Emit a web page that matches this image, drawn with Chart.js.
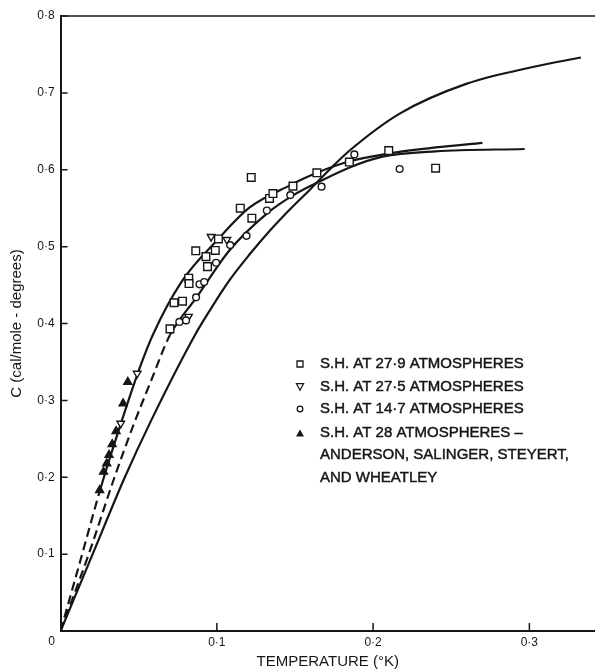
<!DOCTYPE html>
<html><head><meta charset="utf-8">
<script src="https://cdn.jsdelivr.net/npm/chart.js@4/dist/chart.umd.min.js"></script>
<style>html,body{margin:0;padding:0;background:#fff}canvas{display:block}</style>
</head><body>
<canvas id="c" width="595" height="669"></canvas>
<script>
// ---- data (temperature in °K, specific heat C in cal/mole-degree) ----
const xTickValues = [0, 0.1, 0.2, 0.3];
const yTickValues = [0, 0.1, 0.2, 0.3, 0.4, 0.5, 0.6, 0.7, 0.8];

// fitted curve through the 27.9 atm squares (dashed below curveA_dashTo)
const curveA_T = [0, 0.0138, 0.0255, 0.037, 0.049, 0.059, 0.078, 0.100, 0.121, 0.147, 0.164, 0.185, 0.210, 0.240, 0.270];
const curveA_C = [0, 0.100, 0.185, 0.260, 0.333, 0.385, 0.456, 0.508, 0.551, 0.580, 0.596, 0.611, 0.621, 0.629, 0.635];
const curveA_dashTo = 0.0255;

// fitted curve through the 14.7 atm circles (dashed below curveB_dashTo)
const curveB_T = [0, 0.018, 0.0345, 0.047, 0.058, 0.070, 0.087, 0.108, 0.132, 0.149, 0.167, 0.185, 0.206, 0.240, 0.297];
const curveB_C = [0, 0.100, 0.200, 0.270, 0.326, 0.385, 0.434, 0.495, 0.543, 0.567, 0.586, 0.603, 0.617, 0.624, 0.627];
const curveB_dashTo = 0.070;

// lower solid (theoretical) curve
const curveC_T = [0, 0.0205, 0.0411, 0.058, 0.086, 0.0955, 0.108, 0.121, 0.134, 0.147, 0.160, 0.172, 0.185, 0.217, 0.260, 0.303, 0.333];
const curveC_C = [0, 0.100, 0.200, 0.274, 0.385, 0.417, 0.456, 0.490, 0.521, 0.549, 0.575, 0.600, 0.625, 0.673, 0.712, 0.734, 0.746];

// S.H. at 27.9 atm (open squares)
const sq_T = [0.070, 0.0726, 0.078, 0.082, 0.0822, 0.0865, 0.093, 0.094, 0.099, 0.101, 0.115, 0.122, 0.1224, 0.1337, 0.1359, 0.1487, 0.164, 0.1848, 0.210, 0.240];
const sq_C = [0.393, 0.427, 0.429, 0.459, 0.452, 0.4946, 0.487, 0.474, 0.495, 0.510, 0.550, 0.590, 0.537, 0.5627, 0.569, 0.5787, 0.596, 0.610, 0.625, 0.602];
// S.H. at 27.5 atm (open inverted triangles)
const itri_T = [0.0385, 0.049, 0.0818, 0.0963, 0.1064];
const itri_C = [0.270, 0.335, 0.409, 0.513, 0.509];
// S.H. at 14.7 atm (open circles)
const ci_T = [0.076, 0.0803, 0.0867, 0.0889, 0.0919, 0.0995, 0.1085, 0.119, 0.132, 0.147, 0.167, 0.188, 0.217];
const ci_C = [0.402, 0.404, 0.434, 0.451, 0.454, 0.479, 0.502, 0.514, 0.547, 0.567, 0.578, 0.620, 0.601];
// S.H. at 28 atm - Anderson, Salinger, Steyert and Wheatley (filled triangles)
const tri_T = [0.025, 0.0275, 0.0295, 0.031, 0.033, 0.0355, 0.040, 0.043];
const tri_C = [0.183, 0.207, 0.218, 0.229, 0.243, 0.260, 0.296, 0.324];

const legendLines = [
  'S.H. AT 27·9 ATMOSPHERES',
  'S.H. AT 27·5 ATMOSPHERES',
  'S.H. AT 14·7 ATMOSPHERES',
  'S.H. AT 28 ATMOSPHERES –',
  'ANDERSON, SALINGER, STEYERT,',
  'AND WHEATLEY'
];
const xTitle = 'TEMPERATURE (°K)';
const yTitle = 'C (cal/mole - degrees)';

// ---- helpers ----
const INK = '#161616';
const FONT = '"Liberation Sans", Arial, sans-serif';
const pts = (xs, ys) => xs.map((x, i) => ({x, y: ys[i]}));
const fmt = v => v === 0 ? '' : v.toFixed(1).replace('.', '·');

const curve = (label, xs, ys, dashTo) => ({
  type: 'line', label, data: pts(xs, ys), showLine: true,
  borderColor: INK, borderWidth: 2.2, pointRadius: 0,
  cubicInterpolationMode: 'monotone', fill: false,
  segment: dashTo == null ? {} : {borderDash: c => c.p1.parsed.x <= dashTo + 1e-9 ? [9, 5] : undefined}
});
const marks = (label, xs, ys, style, r, filled, rot) => ({
  type: 'scatter', label, data: pts(xs, ys), showLine: false,
  pointStyle: style, pointRadius: r, pointRotation: rot || 0,
  pointBorderWidth: 1.4, pointBorderColor: INK,
  pointBackgroundColor: filled ? INK : '#fff'
});

const framePlugin = {
  id: 'frame',
  afterDraw(chart) {
    const {ctx, chartArea: a, scales: {x, y}} = chart;
    ctx.save();
    ctx.strokeStyle = INK;
    ctx.lineWidth = 1.6;
    ctx.beginPath();
    ctx.moveTo(a.left, a.top); ctx.lineTo(a.right, a.top);
    ctx.stroke();
    ctx.lineWidth = 1.5;
    ctx.beginPath();
    xTickValues.forEach(v => { if (!v) return; const p = x.getPixelForValue(v); ctx.moveTo(p, a.bottom); ctx.lineTo(p, a.bottom - 8); });
    yTickValues.forEach(v => { if (!v) return; const p = y.getPixelForValue(v); ctx.moveTo(a.left, p); ctx.lineTo(a.left + 7, p); });
    ctx.stroke();
    // shared origin label
    ctx.fillStyle = INK;
    ctx.font = '12px ' + FONT;
    ctx.textAlign = 'center'; ctx.textBaseline = 'middle';
    ctx.fillText('0', x.getPixelForValue(0) - 9, a.bottom + 11);
    // legend
    const mx = 300, tx = 320;
    const rows = [364, 386.7, 409, 433, 455, 477.7];
    ctx.font = '15px ' + FONT;
    ctx.textAlign = 'left';
    ctx.lineWidth = 0.45;
    legendLines.forEach((t, i) => { ctx.fillText(t, tx, rows[i]); ctx.strokeText(t, tx, rows[i]); });
    ctx.lineWidth = 1.3;
    // square
    ctx.beginPath(); ctx.rect(mx - 3, rows[0] - 3, 6, 6); ctx.stroke();
    // inverted triangle
    ctx.beginPath(); ctx.moveTo(mx - 3.5, rows[1] - 3); ctx.lineTo(mx + 3.5, rows[1] - 3); ctx.lineTo(mx, rows[1] + 3.5); ctx.closePath(); ctx.stroke();
    // circle
    ctx.beginPath(); ctx.arc(mx, rows[2], 2.8, 0, Math.PI * 2); ctx.stroke();
    // filled triangle
    ctx.beginPath(); ctx.moveTo(mx - 4, rows[3] + 3.5); ctx.lineTo(mx + 4, rows[3] + 3.5); ctx.lineTo(mx, rows[3] - 3.5); ctx.closePath(); ctx.fill();
    ctx.restore();
  }
};

Chart.defaults.color = INK;
Chart.defaults.font.family = FONT;

new Chart(document.getElementById('c'), {
  type: 'scatter',
  data: {
    datasets: [
      marks('S.H. at 28 atm', tri_T, tri_C, 'triangle', 4.6, true),
      marks('S.H. at 14.7 atm', ci_T, ci_C, 'circle', 3.4, false),
      marks('S.H. at 27.5 atm', itri_T, itri_C, 'triangle', 4.4, false, 180),
      marks('S.H. at 27.9 atm', sq_T, sq_C, 'rect', 5.4, false),
      curve('27.9 atm fit', curveA_T, curveA_C, curveA_dashTo),
      curve('14.7 atm fit', curveB_T, curveB_C, curveB_dashTo),
      curve('theory', curveC_T, curveC_C, null)
    ]
  },
  options: {
    responsive: false,
    devicePixelRatio: 1,
    animation: false,
    layout: {autoPadding: false, padding: {top: 16, right: 0, bottom: 0, left: 0}},
    plugins: {legend: {display: false}, tooltip: {enabled: false}},
    scales: {
      x: {
        type: 'linear', min: 0, max: 0.342,
        afterBuildTicks: s => { s.ticks = xTickValues.map(v => ({value: v})); },
        afterFit: s => { s.height = 38; s.paddingRight = 0; s.paddingLeft = 0; },
        ticks: {callback: v => fmt(v), font: {size: 12}, padding: 4, maxRotation: 0, autoSkip: false, color: INK},
        grid: {display: false, drawTicks: false},
        border: {display: true, color: INK, width: 2},
        title: {display: true, text: xTitle, font: {size: 15, lineHeight: 1}, padding: {top: 0, bottom: 0}, color: INK}
      },
      y: {
        type: 'linear', min: 0, max: 0.8,
        afterBuildTicks: s => { s.ticks = yTickValues.map(v => ({value: v})); },
        afterFit: s => { s.width = 60.6; },
        ticks: {callback: v => fmt(v), font: {size: 12}, padding: 6, autoSkip: false, color: INK},
        grid: {display: false, drawTicks: false},
        border: {display: true, color: INK, width: 2},
        title: {display: true, text: yTitle, font: {size: 15, lineHeight: 1}, padding: {top: 9, bottom: 0}, color: INK}
      }
    }
  },
  plugins: [framePlugin]
});
</script>
</body></html>
